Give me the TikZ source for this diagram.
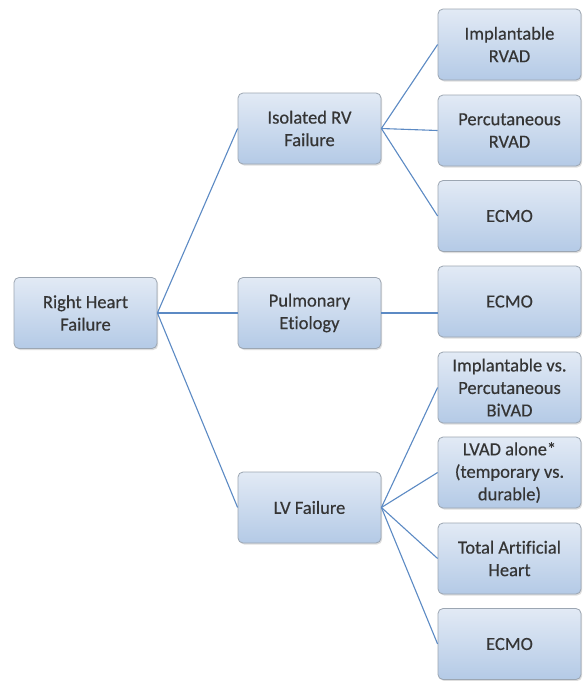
\documentclass[tikz,border=0pt]{standalone}
\usepackage{fontspec}
\setmainfont{Carlito}[Ligatures=CommonOff, FakeBold=0.4]
\usetikzlibrary{shadows}
\definecolor{boxtop}{HTML}{E2EAF5}
\definecolor{boxbot}{HTML}{B4CAE6}
\definecolor{boxline}{HTML}{9CA6B2}
\definecolor{linkc}{HTML}{5C8AC4}
\definecolor{txt}{HTML}{353535}
\begin{document}
\begin{tikzpicture}[x=1pt,y=-1pt,
  box/.style={draw=boxline, line width=0.8pt, rounded corners=5pt,
    top color=boxtop, bottom color=boxbot,
    drop shadow={shadow xshift=1.2pt, shadow yshift=-1.5pt, fill=black!25, opacity=0.5},
    minimum width=143pt, minimum height=71pt, inner sep=2pt,
    align=center, text=txt, font=\fontsize{18.5}{22.5}\selectfont},
  link/.style={draw=linkc, line width=1.1pt}]
\useasboundingbox (0,0) rectangle (582,681);
\fill[white] (0,0) rectangle (582,681);
\node[box] (root) at (85.5,313) {Right Heart\\Failure};
\node[box] (iso) at (309.5,128.5) {Isolated RV\\Failure};
\node[box] (pul) at (309.5,313) {Pulmonary\\Etiology};
\node[box] (lv) at (309.5,507.5) {LV Failure};
\node[box] (r1) at (509.5,44.5) {Implantable\\RVAD};
\node[box] (r2) at (509.5,130.5) {Percutaneous\\RVAD};
\node[box] (r3) at (509.5,216) {ECMO};
\node[box] (p1) at (509.5,301.5) {ECMO};
\node[box] (l1) at (509.5,387.5) {Implantable vs.\\Percutaneous\\BiVAD};
\node[box] (l2) at (509.5,472.5) {LVAD alone*\\(temporary vs.\\durable)};
\node[box] (l3) at (509.5,558.5) {Total Artificial\\Heart};
\node[box] (l4) at (509.5,644) {ECMO};
\foreach \c in {iso,pul,lv} \draw[link] (root.east) -- (\c.west);
\foreach \c in {r1,r2,r3} \draw[link] (iso.east) -- (\c.west);
\draw[link] (pul.east) -- (pul.east -| p1.west);
\foreach \c in {l1,l2,l3,l4} \draw[link] (lv.east) -- (\c.west);
\end{tikzpicture}
\end{document}
